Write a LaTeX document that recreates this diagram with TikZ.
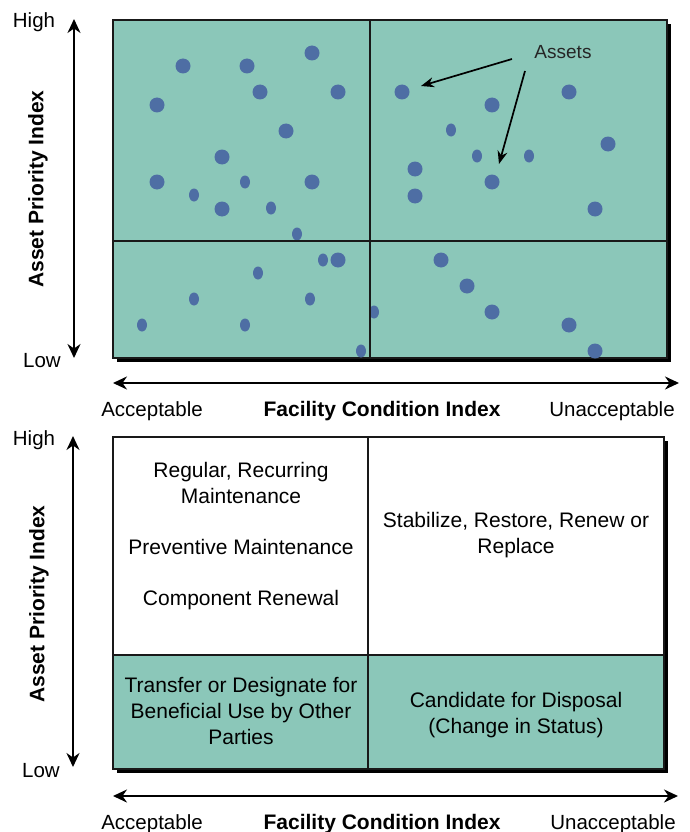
\documentclass[tikz,border=0pt]{standalone}
\usepackage{fontspec}
\setmainfont{Liberation Sans}
\usepackage{xcolor}
\usepackage{tikz}
\usetikzlibrary{positioning}
\usetikzlibrary{arrows.meta,calc}

\definecolor{quadteal}{HTML}{8BC7B9}
\definecolor{assetblue}{HTML}{4E6EA4}

\begin{document}
\begin{tikzpicture}[x=1pt,y=-1pt,
  lbl/.style={font=\fontsize{20.5}{24}\selectfont, anchor=base},
  ttl/.style={font=\bfseries\fontsize{21}{24}\selectfont, anchor=base},
  cell/.style={font=\fontsize{21}{25.5}\selectfont, align=center},
  axis/.style={{Stealth[length=14pt,width=13pt]}-{Stealth[length=14pt,width=13pt]}, line width=2.3pt},
  pointer/.style={-{Stealth[length=13pt,width=10pt]}, line width=1.7pt},
  frame/.style={draw=black!90, line width=1.2pt}]

 \useasboundingbox (0,0) rectangle (690,832);

 % upper matrix with assets
 \fill[black] (117,24) rectangle (671,362);
 \draw[frame, fill=quadteal] (113,20) rectangle (667,358);

 \foreach \x/\y in {183/66,247/66,312/53,157/105,260/92,338/92,286/131,222/157,157/182,312/182,222/209,338/260,
                    402/92,492/105,569/92,608/144,415/169,492/182,415/196,595/209,441/260,467/286,492/312,569/325,595/351}{
   \fill[assetblue] (\x,\y) circle (7.5);
 }
 \foreach \x/\y in {194/195,245/182,271/208,297/234,323/260,258/273,194/299,310/299,142/325,245/325,
                    451/130,477/156,529/156,374/312,361/351}{
   \fill[assetblue] (\x,\y) ellipse (5 and 6.5);
 }
 \draw[frame] (370,20) -- (370,358) (113,241) -- (667,241);

 \node[font=\fontsize{19}{22}\selectfont, anchor=base, text=black!85] (assets) at (563,59) {Assets};
 \coordinate (fromA) at (512,59);
 \coordinate (toA) at (421,86);
 \coordinate (fromB) at (525,71);
 \coordinate (toB) at (499,164);
 \draw[pointer] (fromA) -- (toA);
 \draw[pointer] (fromB) -- (toB);

 \coordinate (hiA) at (74,19);
 \coordinate (loA) at (74,358);
 \draw[axis] (hiA) -- (loA);
 \node[lbl] (highA) at (34,28) {High};
 \node[lbl] (lowA) at (42,367) {Low};
 \node[ttl, anchor=center, rotate=90] (apiA) at (38,189) {Asset Priority Index};

 \coordinate (leftA) at (113,383);
 \coordinate (rightA) at (679,383);
 \draw[axis] (leftA) -- (rightA);
 \node[lbl] (accA) at (152,416) {Acceptable};
 \node[ttl] (fciA) at (382,416) {Facility Condition Index};
 \node[lbl] (unaccA) at (612,416) {Unacceptable};

 % lower matrix with actions
 \fill[black] (117,441) rectangle (668,773);
 \draw[frame, fill=white] (113,437) rectangle (664,769);
 \draw[frame, fill=quadteal] (113,655) rectangle (664,769);
 \draw[frame] (368,437) -- (368,769);

 \node[cell] (regular) at (241,483) {Regular, Recurring\\Maintenance};
 \node[cell, anchor=base] (preventive) at (241,554) {Preventive Maintenance};
 \node[cell, anchor=base] (component) at (241,605) {Component Renewal};
 \node[cell] (stabilize) at (516,535) {Stabilize, Restore, Renew or\\Replace};
 \node[cell, font=\fontsize{21}{26}\selectfont] (transfer) at (241,711) {Transfer or Designate for\\Beneficial Use by Other\\Parties};
 \node[cell, font=\fontsize{21}{26}\selectfont] (disposal) at (516,715) {Candidate for Disposal\\(Change in Status)};

 \coordinate (hiB) at (73,436);
 \coordinate (loB) at (73,767);
 \draw[axis] (hiB) -- (loB);
 \node[lbl] (highB) at (34,445) {High};
 \node[lbl] (lowB) at (41,777) {Low};
 \node[ttl, anchor=center, rotate=90] (apiB) at (39,604) {Asset Priority Index};

 \coordinate (leftB) at (113,796);
 \coordinate (rightB) at (678,796);
 \draw[axis] (leftB) -- (rightB);
 \node[lbl] (accB) at (152,829) {Acceptable};
 \node[ttl] (fciB) at (382,829) {Facility Condition Index};
 \node[lbl] (unaccB) at (613,829) {Unacceptable};

\end{tikzpicture}
\end{document}
